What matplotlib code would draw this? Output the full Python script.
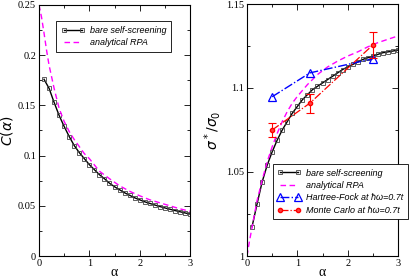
import matplotlib

matplotlib.use("Agg")
import matplotlib.pyplot as plt
from matplotlib.ticker import MultipleLocator

# left panel: C(alpha)
ALPHA_BARE = [0.1, 0.2, 0.3, 0.4, 0.5, 0.6, 0.7, 0.8, 0.9, 1.0,
              1.1, 1.2, 1.3, 1.4, 1.5, 1.6, 1.7, 1.8, 1.9, 2.0,
              2.1, 2.2, 2.3, 2.4, 2.5, 2.6, 2.7, 2.8, 2.9, 3.0]
C_BARE = [0.176, 0.167, 0.153, 0.140, 0.129, 0.119, 0.110, 0.103, 0.097, 0.091,
          0.086, 0.081, 0.077, 0.0725, 0.069, 0.066, 0.063, 0.0605, 0.058, 0.056,
          0.054, 0.0524, 0.0508, 0.0493, 0.0479, 0.0466, 0.0453, 0.0441, 0.0429, 0.0418]
ALPHA_RPA = [0.0, 0.05, 0.1, 0.15, 0.2, 0.3, 0.4, 0.5, 0.6, 0.7, 0.8, 0.9, 1.0,
             1.2, 1.4, 1.6, 1.8, 2.0, 2.2, 2.4, 2.6, 2.8, 3.0]
C_RPA = [0.25, 0.238, 0.222, 0.205, 0.190, 0.167, 0.147, 0.134, 0.124, 0.116,
         0.109, 0.102, 0.097, 0.0845, 0.077, 0.070, 0.0645, 0.060, 0.056, 0.053,
         0.050, 0.047, 0.0445]

# right panel: sigma*/sigma0
S_BARE = [1.0174, 1.031, 1.044, 1.054, 1.062, 1.069, 1.075, 1.080, 1.085, 1.089,
          1.093, 1.096, 1.099, 1.101, 1.103, 1.105, 1.107, 1.109, 1.111, 1.1125,
          1.114, 1.1155, 1.117, 1.118, 1.119, 1.120, 1.121, 1.1215, 1.122, 1.1226]
S_RPA = [1.0, 1.009, 1.017, 1.025, 1.033, 1.045, 1.056, 1.065, 1.073, 1.080,
         1.086, 1.091, 1.095, 1.102, 1.108, 1.1125, 1.116, 1.119, 1.1215, 1.1245,
         1.127, 1.129, 1.131]
ALPHA_PTS = [0.5, 1.25, 2.5]
S_HF = [1.0948, 1.109, 1.1174]
S_MC = [1.075, 1.091, 1.1256]
S_MC_ERR = [0.004, 0.0056, 0.0075]

fig = plt.figure(figsize=(4.15, 2.79), dpi=100)
W, H = 415, 279
axL = fig.add_axes([39 / W, 1 - 256 / H, 151 / W, 251 / H])
axR = fig.add_axes([247 / W, 1 - 256 / H, 151 / W, 252 / H])

serif = "Liberation Serif"
sans = "Liberation Sans"


def style(ax):
    ax.tick_params(which="both", direction="in", top=True, right=True,
                   labelsize=7.5, width=0.6, pad=2)
    ax.tick_params(which="major", length=4)
    ax.tick_params(which="minor", length=2)
    for lab in ax.get_xticklabels() + ax.get_yticklabels():
        lab.set_fontfamily(serif)
    for s in ax.spines.values():
        s.set_linewidth(0.8)
    ax.xaxis.set_major_locator(MultipleLocator(1))
    ax.xaxis.set_minor_locator(MultipleLocator(0.5))


def legend(ax, anchor, spacing):
    leg = ax.legend(loc="upper left", bbox_to_anchor=anchor, numpoints=2,
                    prop={"family": sans, "style": "italic", "size": 6.5},
                    frameon=True, fancybox=False, edgecolor="black",
                    framealpha=1, handlelength=2.6, borderpad=0.5,
                    labelspacing=spacing, handletextpad=0.6, borderaxespad=0)
    leg.get_frame().set_linewidth(0.6)
    leg.set_zorder(5)
    return leg


# left
axL.plot(ALPHA_BARE, C_BARE, "-", color="black", lw=1.0, marker="s", ms=2.8,
         mfc="none", mec="#444444", mew=0.6, label="bare self-screening")
axL.plot(ALPHA_RPA, C_RPA, "--", color="#ff00ff", lw=1.0, dashes=(4, 2.5),
         label="analytical RPA")
axL.set_xlim(0, 3)
axL.set_ylim(0, 0.25)
axL.set_yticks([0, 0.05, 0.1, 0.15, 0.2, 0.25])
axL.set_yticklabels(["0", "0.05", "0.1", "0.15", "0.2", "0.25"])
axL.yaxis.set_minor_locator(MultipleLocator(0.025))
style(axL)
axL.set_xlabel("α", fontsize=10, family=serif, labelpad=-1)
axL.set_ylabel("$C(\\alpha)$", fontsize=10, labelpad=2)
legend(axL, (0.115, 0.935), 0.4)

# right
axR.plot(ALPHA_BARE, S_BARE, "-", color="black", lw=1.0, marker="s", ms=2.8,
         mfc="none", mec="#444444", mew=0.6, label="bare self-screening")
axR.plot(ALPHA_RPA, S_RPA, "--", color="#ff00ff", lw=1.0, dashes=(4, 2.5),
         label="analytical RPA")
axR.plot(ALPHA_PTS, S_HF, "-.", color="#0000ff", lw=1.0, marker="^", ms=6,
         mfc="none", mec="#0000ff", mew=0.9, label="Hartree-Fock at ħω=0.7t")
axR.errorbar(ALPHA_PTS, S_MC, yerr=S_MC_ERR, fmt="none", ecolor="#ff0000",
             elinewidth=0.8, capsize=3, capthick=0.8)
axR.plot(ALPHA_PTS, S_MC, "-.", color="#ff0000", lw=0.9, marker="o", ms=3,
         mfc="#ff4040", mec="#ff0000", label="Monte Carlo at ħω=0.7t")
axR.set_xlim(0, 3)
axR.set_ylim(1, 1.15)
axR.set_yticks([1.0, 1.05, 1.1, 1.15])
axR.set_yticklabels(["1", "1.05", "1.1", "1.15"])
axR.yaxis.set_minor_locator(MultipleLocator(0.025))
style(axR)
axR.set_xlabel("α", fontsize=10, family=serif, labelpad=-1)
axR.set_ylabel("$\\sigma^*/\\sigma_0$", fontsize=10, labelpad=2)
legend(axR, (0.17, 0.365), 0.38)

fig.savefig("out.png", dpi=100)
